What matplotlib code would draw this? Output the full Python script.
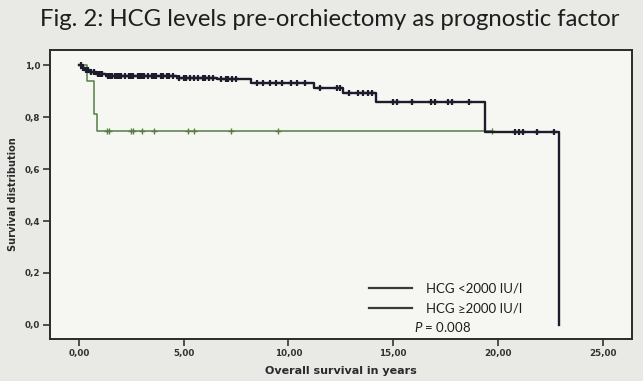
import matplotlib.pyplot as plt
from matplotlib.lines import Line2D

# Kaplan-Meier steps
low_times = [0.0, 0.15, 0.3, 0.5, 0.8, 1.3, 4.7, 6.6, 8.2, 11.2, 12.6, 14.2, 19.4, 22.9]
low_surv = [1.0, 0.99, 0.98, 0.972, 0.965, 0.958, 0.952, 0.946, 0.93, 0.91, 0.893, 0.856, 0.741, 0.0]
low_censor = [0.1, 0.2, 0.35, 0.45, 0.6, 0.7, 0.9, 1.0, 1.1, 1.4, 1.5, 1.6, 1.7, 1.8, 1.9,
              2.0, 2.2, 2.4, 2.5, 2.6, 2.8, 2.9, 3.0, 3.1, 3.3, 3.5, 3.6, 3.7, 3.9, 4.0,
              4.2, 4.3, 4.5, 4.8, 5.0, 5.1, 5.3, 5.5, 5.7, 5.9, 6.0, 6.2, 6.4, 6.8, 7.0,
              7.1, 7.3, 7.5, 8.5, 8.8, 9.1, 9.4, 9.7, 10.1, 10.4, 10.8, 11.5, 12.3, 12.45,
              12.9, 13.3, 13.55, 13.8, 14.0, 15.0, 15.2, 15.9, 16.8, 17.0, 17.6, 17.8,
              18.6, 20.8, 21.0, 21.2, 21.85, 22.7]

high_times = [0.0, 0.38, 0.7, 0.85, 19.7]
high_surv = [1.0, 0.94, 0.81, 0.745, 0.745]
high_censor = [1.33, 1.43, 2.5, 2.6, 3.0, 3.6, 5.2, 5.5, 7.25, 9.5, 19.7]

labels = ['HCG <2000 IU/l', 'HCG \u22652000 IU/l']
p_text = r'$P$ = 0.008'


def surv_at(times, surv, t):
    val = surv[0]
    for ti, si in zip(times, surv):
        if ti <= t:
            val = si
    return val


plt.rcParams['mathtext.fontset'] = 'custom'
plt.rcParams['mathtext.it'] = 'Lato:italic'
plt.rcParams['mathtext.rm'] = 'Lato'

fig = plt.figure(figsize=(6.43, 3.81), dpi=100, facecolor='#e9e9e6')
ax = fig.add_axes([50/643, 1 - 339/381, 582/643, 289/381])
ax.set_facecolor('#f6f6f3')

dark = '#1c1c2c'
green = '#547f44'

ax.step(high_times, high_surv, where='post', color=green, lw=1.1, zorder=2)
ax.plot(high_censor, [surv_at(high_times, high_surv, t) for t in high_censor],
        ls='none', marker='+', ms=5, mew=1.0, color=green, zorder=2)

ax.step(low_times, low_surv, where='post', color=dark, lw=1.7, zorder=3)
ax.plot(low_censor, [surv_at(low_times, low_surv, t) for t in low_censor],
        ls='none', marker='+', ms=5, mew=1.6, color=dark, zorder=3)

ax.set_xlim(-1.38, 26.4)
ax.set_ylim(-0.054, 1.058)

xt = [0, 5, 10, 15, 20, 25]
yt = [0.0, 0.2, 0.4, 0.6, 0.8, 1.0]
ax.set_xticks(xt)
ax.set_xticklabels([f'{v:.2f}'.replace('.', ',') for v in xt], fontsize=6.3, fontweight='bold', color='#333333')
ax.set_yticks(yt)
ax.set_yticklabels([f'{v:.1f}'.replace('.', ',') for v in yt], fontsize=6.3, fontweight='bold', color='#333333')
ax.tick_params(length=5, width=1.2, color='#333333', pad=2)
for s in ax.spines.values():
    s.set_linewidth(1.4)
    s.set_color('#2a2a2a')

ax.set_xlabel('Overall survival in years', fontsize=8, fontweight='bold', color='#2a2a2a', labelpad=6)
ax.set_ylabel('Survival distribution', fontsize=7, fontweight='bold', color='#2a2a2a', labelpad=5)

fig.text(0.513, 0.948, 'Fig. 2: HCG levels pre-orchiectomy as prognostic factor',
         ha='center', va='center', fontsize=17.2, family='Lato', color='#1e1e1e')

handles = [Line2D([], [], color='#3a3a3a', lw=1.6), Line2D([], [], color='#3a3a3a', lw=1.6)]
leg = ax.legend(handles, labels, loc='upper left', bbox_to_anchor=(357/643, 1 - 271/381),
                bbox_transform=fig.transFigure, frameon=False, handlelength=3.3,
                handletextpad=1.0, labelspacing=0.55,
                prop={'family': 'Lato', 'size': 9.5})
for t in leg.get_texts():
    t.set_color('#1e1e1e')
fig.text(414/643, 1 - 327/381, p_text, ha='left', va='center', fontsize=9.5,
         family='Lato', color='#1e1e1e')

fig.savefig('out.png', dpi=100, facecolor=fig.get_facecolor())
